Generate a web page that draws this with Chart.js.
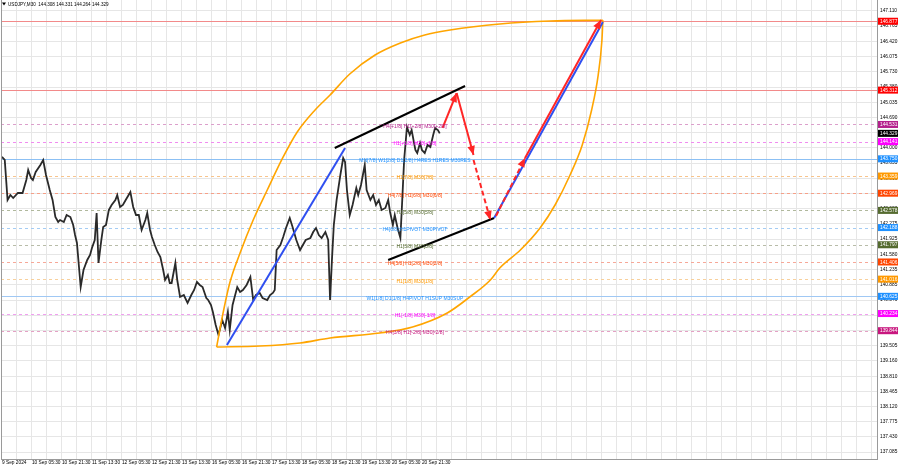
<!DOCTYPE html>
<html><head><meta charset="utf-8">
<script src="https://cdn.jsdelivr.net/npm/chart.js@4.4.1/dist/chart.umd.min.js"></script>
<style>html,body{margin:0;padding:0;background:#fff;}canvas{display:block}</style>
</head><body>
<canvas id="c" width="900" height="468" style="width:900px;height:468px"></canvas>
<script>
// ---------- DATA ----------
const symbolTitle = "USDJPY,M30  144.308 144.331 144.264 144.329";
const lastPrice = 144.329;

// time axis: one category label every 32 M30 bars
const timeLabels = ["9 Sep 2024","10 Sep 05:30","10 Sep 21:30","11 Sep 13:30","12 Sep 05:30","12 Sep 21:30","13 Sep 13:30","16 Sep 05:30","16 Sep 21:30","17 Sep 13:30","18 Sep 05:30","18 Sep 21:30","19 Sep 13:30","20 Sep 05:30","20 Sep 21:30"];
const barsPerLabel = 32;

const priceTickLabels = ["147.110","146.765","146.420","146.075","145.730","145.380","145.035","144.690","144.345","144.000","143.655","143.310","142.965","142.620","142.275","141.925","141.580","141.235","140.885","140.540","140.195","139.850","139.505","139.160","138.810","138.465","138.120","137.775","137.430","137.085"];

// price path (bar index, close)
const priceBars = [
 0,3,6,9,12,17,22,26,28,31,
 33,36,41,44,47,51,54,57,60,62,
 66,69,73,76,78,80,82,84,87,91,
 94,96,99,101,103,106,108,111,114,117,
 121,123,126,129,132,137,140,143,146,149,
 153,155,158,160,163,166,169,172,174,177,
 179,181,185,187,190,194,198,202,205,208,
 211,214,218,220,223,225,228,231,235,238,
 241,243,246,251,254,257,261,265,268,271,
 275,278,283,286,289,291,293,297,300,303,
 307,310,314,318,321,324,329,332,335,338,
 341,345,348,350,352,354,357,361,364,366,
 368,371,374,378,380,383,385,387,389,393,
 396,399,402,405,409,412,414,417,419,422,
 425,427,429,432,435,437,441,443,446,448,
 451,454,457,460,462,465,467];
const priceClose = [
 143.792,143.724,142.815,142.928,142.860,142.974,142.974,143.269,143.496,143.315,
 143.269,143.451,143.610,143.724,143.383,143.042,142.815,142.428,142.315,142.360,
 142.315,142.474,142.428,142.246,142.019,141.837,141.337,140.837,141.224,141.451,
 141.565,141.724,141.905,142.519,141.383,141.905,142.201,142.246,142.587,142.701,
 142.815,142.928,142.655,142.701,142.815,142.996,142.655,142.474,142.474,142.133,
 142.360,142.519,142.133,141.974,141.792,141.633,141.519,141.224,140.996,141.110,
 140.928,140.928,141.383,140.996,140.610,140.655,140.474,140.655,140.769,140.951,
 140.883,140.837,140.587,140.542,140.428,140.269,139.974,139.746,140.087,139.905,
 140.269,139.860,140.428,140.837,140.724,140.769,140.883,141.065,140.542,140.655,
 140.701,140.587,140.542,140.655,140.701,140.769,141.678,141.792,141.974,142.178,
 142.405,142.201,141.905,141.678,141.792,141.905,141.951,142.087,142.178,142.019,
 141.951,142.087,141.905,140.542,141.451,142.246,142.815,143.383,143.769,143.678,
 143.042,142.474,142.701,143.087,142.928,143.155,143.383,143.610,143.042,142.815,
 142.928,142.701,142.815,142.587,142.633,142.815,142.542,142.246,142.474,142.178,
 141.951,142.815,143.724,144.474,144.292,144.405,143.951,143.883,144.110,143.951,
 143.883,144.065,144.019,144.292,144.451,144.405,144.329];

// Murrey levels
const levelValues = [146.877,145.312,144.531,144.141,143.750,143.359,142.969,142.578,142.188,141.797,141.406,141.016,140.625,140.234,139.844];
const levelTexts = ["","","H4[+1/8] H1[+2/8] M30[+2/8]","H1[+1/8] M30[+1/8]","MN[7/8] W1[2/8] D1[2/8] H4RES H1RES M30RES","H1[7/8] M30[7/8]","H4[7/8] H1[6/8] M30[6/8]","H1[5/8] M30[5/8]","H4[6/8] H1PIVOT M30PIVOT","H1[3/8] M30[3/8]","H4[5/8] H1[2/8] M30[2/8]","H1[1/8] M30[1/8]","W1[1/8] D1[1/8] H4PIVOT H1SUP M30SUP","H1[-1/8] M30[-1/8]","H4[3/8] H1[-2/8] M30[-2/8]"];

// drawings (bar index, price)
const arcUpperBar = [229,235,243,254,268,283,300,315,334,350,371,398,425,451,478,531,585,641];
const arcUpperPrice = [139.474,140.155,140.928,141.610,142.360,143.042,143.792,144.360,144.860,145.201,145.678,146.110,146.383,146.565,146.678,146.815,146.883,146.900];
const arcLowerBar = [229,275,318,350,403,438,475,499,521,531,553,574,590,606,619,629,636,640,641];
const arcLowerPrice = [139.474,139.496,139.565,139.678,139.792,139.928,140.246,140.610,140.996,141.269,141.678,142.178,142.701,143.383,144.065,144.860,145.655,146.451,146.900];
const trend1Bar = [240,366], trend1Price = [139.519,143.996];
const trend2Bar = [525,641], trend2Price = [142.405,146.860];
const chanUpBar = [355,494], chanUpPrice = [143.996,145.405];
const chanLoBar = [412,525], chanLoPrice = [141.451,142.405];
const red1Bar = [470,485], red1Price = [144.451,145.246];
const red2Bar = [485,503], red2Price = [145.246,143.837];
const red3Bar = [503,521], red3Price = [143.724,142.360];
const red4Bar = [527,558], red4Price = [142.451,143.769];
const red5Bar = [558,639], red5Price = [143.769,146.905];

// ---------- STYLES ----------
const FONT = "'Liberation Sans', Arial, sans-serif";
const levelColors = ['#ff0000','#ff0000','#b4208c','#ff00ff','#1e90ff','#ff9900','#ff4500','#556b2f','#1e90ff','#556b2f','#ff4500','#ff9900','#1e90ff','#ff00ff','#c8167e'];
const levelLineColors = ['#f28a8a','#f28a8a','#dca0cc','#f08cf0','#8cc0f4','#f8c48c','#f6a088','#b0b89c','#a4ccf4','#b8bca8','#f6a898','#f8d09c','#a0c8f4','#f0a0f0','#e4a0c4'];
const levelSolid = [true,true,false,false,true,false,false,false,false,false,false,false,true,false,false];
const levelLabelBar = 440.5;
const RED = '#ff2626', BLUE = '#2f4ff0', ORANGE = '#ffa500';

function pts(bx, py){ return bx.map((b,i)=>({x:b, y:py[i]})); }

const lineDs = (data,color,w,extra) => Object.assign({data, borderColor:color, borderWidth:w, pointRadius:0, tension:0, fill:false}, extra||{});

const datasets = [
  lineDs(pts(red1Bar,red1Price),RED,2,{arrow:true}),
  lineDs(pts(red2Bar,red2Price),RED,2,{arrow:true}),
  lineDs(pts(red3Bar,red3Price),RED,2,{arrow:true,borderDash:[5,3]}),
  lineDs(pts(red4Bar,red4Price),RED,2,{arrow:true,borderDash:[5,3]}),
  lineDs(pts(red5Bar,red5Price),RED,2,{arrow:true}),
  lineDs(pts(trend1Bar,trend1Price),BLUE,2),
  lineDs(pts(trend2Bar,trend2Price),BLUE,2),
  lineDs(pts(chanUpBar,chanUpPrice),'#000',2),
  lineDs(pts(chanLoBar,chanLoPrice),'#000',2),
  lineDs(pts(arcUpperBar,arcUpperPrice),ORANGE,1.6,{cubicInterpolationMode:'monotone'}),
  lineDs(pts(arcLowerBar,arcLowerPrice),ORANGE,1.6,{cubicInterpolationMode:'monotone'}),
  lineDs(pts(priceBars,priceClose),'#2a2a2a',1.8)
];

const mtPlugin = {
  id:'mt',
  beforeDatasetsDraw(chart){
    const {ctx, chartArea:a, scales:{y}} = chart;
    ctx.save();
    levelValues.forEach((v,i)=>{
      const py = Math.round(y.getPixelForValue(v))+0.5;
      ctx.strokeStyle = levelLineColors[i];
      ctx.lineWidth = 1;
      ctx.setLineDash(levelSolid[i]?[]:[3,3]);
      ctx.beginPath(); ctx.moveTo(a.left,py); ctx.lineTo(a.right,py); ctx.stroke();
    });
    ctx.restore();
  },
  afterDatasetsDraw(chart){
    const {ctx, scales:{x,y}} = chart;
    ctx.save();
    chart.data.datasets.forEach((ds,i)=>{
      if(!ds.arrow) return;
      const d = chart.getDatasetMeta(i).data;
      const p1 = d[d.length-2], p2 = d[d.length-1];
      const ang = Math.atan2(p2.y-p1.y, p2.x-p1.x);
      const L=9, W=3.8;
      ctx.fillStyle = ds.borderColor;
      ctx.beginPath();
      ctx.moveTo(p2.x,p2.y);
      ctx.lineTo(p2.x-L*Math.cos(ang)+W*Math.sin(ang), p2.y-L*Math.sin(ang)-W*Math.cos(ang));
      ctx.lineTo(p2.x-L*Math.cos(ang)-W*Math.sin(ang), p2.y-L*Math.sin(ang)+W*Math.cos(ang));
      ctx.closePath(); ctx.fill();
    });
    ctx.font = `5px ${FONT}`;
    ctx.textAlign = 'center'; ctx.textBaseline = 'middle';
    const lx = x.getPixelForValue(levelLabelBar);
    levelValues.forEach((v,i)=>{
      if(!levelTexts[i]) return;
      ctx.fillStyle = levelColors[i];
      ctx.fillText(levelTexts[i], lx, y.getPixelForValue(v)+2);
    });
    ctx.restore();
  },
  afterDraw(chart){
    const {ctx, chartArea:a, scales:{y}} = chart;
    ctx.save();
    ctx.strokeStyle='#9a9a9a'; ctx.lineWidth=1;
    ctx.beginPath(); ctx.moveTo(a.left+0.5,a.top); ctx.lineTo(a.left+0.5,a.bottom); ctx.stroke();
    ctx.font = `4.8px ${FONT}`; ctx.textAlign='left'; ctx.textBaseline='middle';
    const boxes = levelValues.map((v,i)=>({v, c:levelColors[i]}));
    boxes.push({v:lastPrice, c:'#000000'});
    boxes.forEach(b=>{
      const py = y.getPixelForValue(b.v);
      ctx.fillStyle=b.c; ctx.fillRect(a.right+1, py-3.5, 20, 7);
      ctx.fillStyle='#fff'; ctx.fillText(b.v.toFixed(3), a.right+3, py+0.3);
    });
    ctx.fillStyle='#000';
    ctx.beginPath(); ctx.moveTo(a.left+1,2.5); ctx.lineTo(a.left+5,2.5); ctx.lineTo(a.left+3,5.5); ctx.closePath(); ctx.fill();
    ctx.font = `4.6px ${FONT}`; ctx.fillText(symbolTitle, a.left+7, 4.5);
    ctx.restore();
  }
};

const X_MIN = -1, X_MAX = 933.4, Y_MIN = 136.928, Y_MAX = 147.36;

new Chart(document.getElementById('c'), {
  type:'line',
  data:{datasets},
  plugins:[mtPlugin],
  options:{
    responsive:false, animation:false, devicePixelRatio:1,
    layout:{padding:{left:1,right:0,top:0,bottom:0}},
    plugins:{legend:{display:false}, tooltip:{enabled:false}},
    scales:{
      x:{
        type:'linear', min:X_MIN, max:X_MAX,
        afterBuildTicks:(s)=>{const t=[];for(let v=0;v<=X_MAX;v+=barsPerLabel/2)t.push({value:v});s.ticks=t;},
        afterFit:(s)=>{s.height=9; s.paddingLeft=0; s.paddingRight=0;},
        ticks:{autoSkip:false, maxRotation:0, align:'start', padding:1, color:'#000',
          font:{family:FONT,size:4.8},
          callback:(v)=> (v%barsPerLabel===0 && timeLabels[v/barsPerLabel]) ? timeLabels[v/barsPerLabel] : ''},
        grid:{color:'#e6e6e6', drawTicks:false, lineWidth:1},
        border:{display:true,color:'#9a9a9a'}
      },
      y:{
        type:'linear', position:'right', min:Y_MIN, max:Y_MAX,
        afterBuildTicks:(s)=>{s.ticks=priceTickLabels.map(l=>({value:parseFloat(l)}));},
        afterFit:(s)=>{s.width=23; s.paddingTop=0; s.paddingBottom=0;},
        ticks:{autoSkip:false, padding:3, color:'#000', font:{family:FONT,size:4.8},
          callback:(v,i)=>priceTickLabels[i]},
        grid:{color:'#e6e6e6', drawTicks:false, lineWidth:1},
        border:{display:true,color:'#9a9a9a'}
      }
    }
  }
});
</script>
</body></html>
